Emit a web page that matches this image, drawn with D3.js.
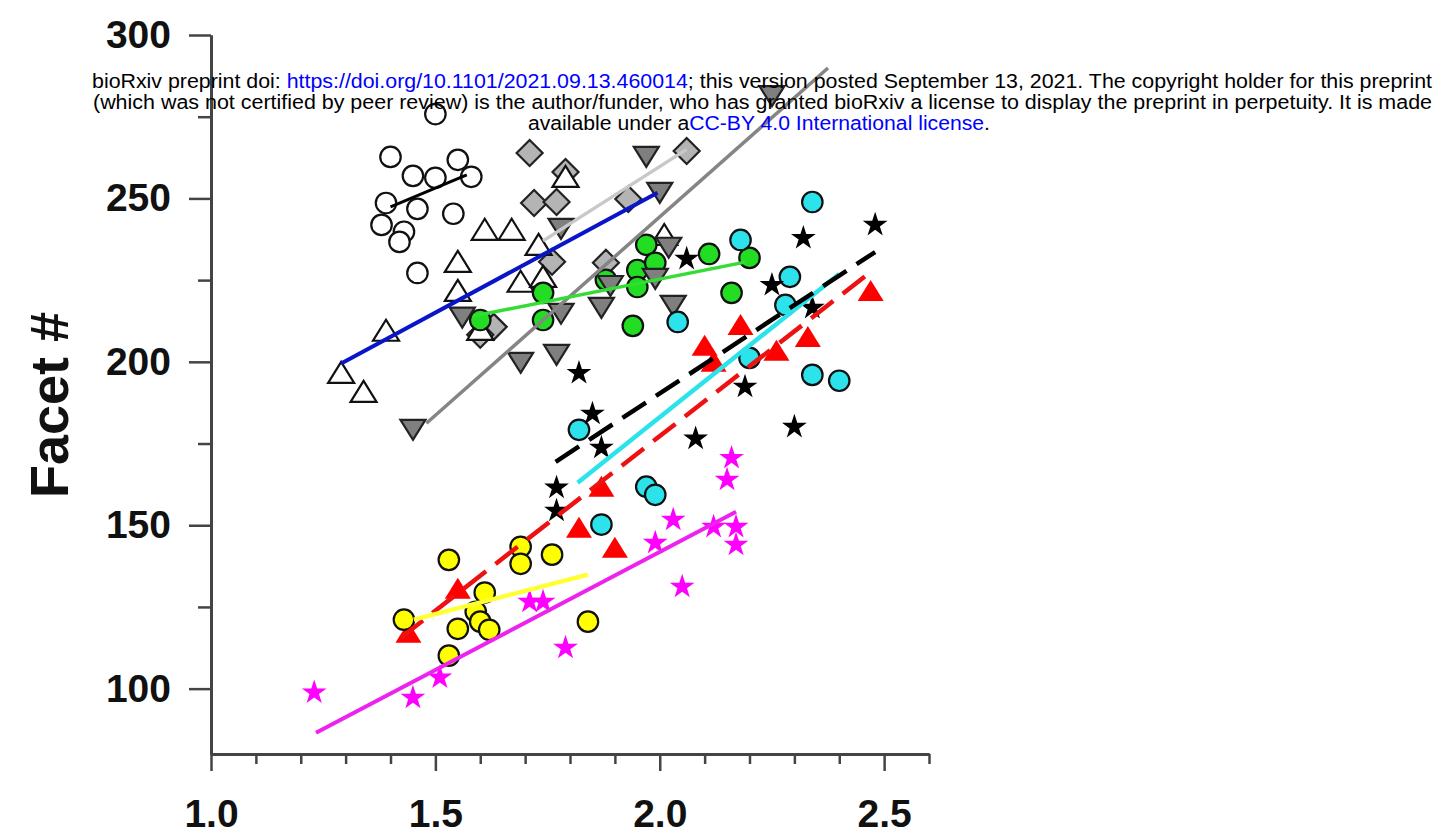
<!DOCTYPE html>
<html>
<head>
<meta charset="utf-8">
<script src="https://cdn.jsdelivr.net/npm/d3@7"></script>
<style>
  body { margin: 0; background: #fff; }
  svg { display: block; font-family: "Liberation Sans", Arial, sans-serif; }
</style>
</head>
<body>
<svg id="chart"></svg>
<script>
// ---- data (x, facet #) ----
const openCircles = [[1.50,275.8],[1.40,262.7],[1.55,261.8],[1.45,256.9],[1.50,256.3],[1.58,256.6],
  [1.39,248.6],[1.46,246.8],[1.54,245.3],[1.38,241.9],[1.43,239.8],[1.42,236.7],[1.46,227.2]];
const grayDiamonds = [[1.71,263.9],[1.79,258.1],[1.72,248.6],[1.77,248.9],[1.93,249.8],[2.06,264.5],
  [1.76,230.6],[1.88,230.3],[1.63,210.7],[1.60,208.3]];
const openTriangles = [[1.29,196.6],[1.34,190.8],[1.39,209.5],[1.55,230.6],[1.61,240.4],[1.67,240.4],
  [1.55,221.7],[1.73,235.8],[1.69,224.5],[1.74,226.0],[1.79,256.6],[2.01,238.8],[1.60,209.8]];
const greenCircles = [[1.60,212.8],[1.74,221.1],[1.74,212.8],[1.88,225.1],[1.95,228.1],[1.97,235.8],
  [1.99,230.3],[1.95,222.9],[2.11,233.0],[2.20,231.8],[2.16,221.1],[1.94,211.0]];
const downTriangles = [[1.97,262.7],[2.00,251.7],[1.78,240.7],[1.89,223.2],[2.02,234.9],[2.03,217.1],
  [1.99,225.4],[1.87,216.5],[1.78,214.7],[1.56,213.5],[1.69,199.7],[1.77,202.1],[1.45,179.2],[2.25,281.3]];
const cyanCircles = [[2.34,248.9],[2.18,237.3],[2.29,226.0],[2.28,217.4],[2.04,212.2],[2.20,201.2],
  [2.34,196.0],[2.40,194.2],[1.82,179.2],[1.97,161.8],[1.99,159.3],[1.87,150.2]];
const blackStars = [[2.48,241.9],[2.32,237.9],[2.06,231.5],[2.25,223.5],[2.34,216.5],[2.19,192.4],
  [2.08,176.5],[2.30,180.1],[1.82,196.6],[1.85,184.1],[1.87,173.7],[1.77,161.5],[1.77,154.4]];
const redTriangles = [[2.47,221.7],[2.33,207.6],[2.26,203.4],[2.18,211.3],[2.10,204.9],[2.12,200.0],
  [1.87,161.8],[1.82,149.2],[1.90,143.1],[1.55,130.6],[1.44,117.1]];
const yellowCircles = [[1.43,121.1],[1.53,139.4],[1.69,143.4],[1.69,138.2],[1.76,141.0],[1.61,129.4],
  [1.59,123.5],[1.60,120.5],[1.62,118.0],[1.55,118.3],[1.53,110.1],[1.84,120.5]];
const magentaStars = [[1.23,98.8],[1.45,97.2],[1.51,103.4],[1.71,126.6],[1.74,126.6],[1.79,112.5],
  [2.05,131.2],[2.16,170.6],[2.15,163.9],[2.03,151.7],[1.99,144.6],[2.12,149.5],[2.17,149.5],[2.17,144.0]];

// fitted lines, [start, end]
const fitOpenCircles = [[1.40,247.4],[1.57,257.2]];
const fitTriangles = [[1.29,199.5],[1.995,251.7]];
const fitDiamonds = [[1.74,237.0],[2.06,265.0]];
const fitDownTriangles = [[1.48,181.2],[2.375,289.9]];
const fitGreen = [[1.585,214.0],[2.19,230.5]];
const fitCyan = [[1.817,163.0],[2.40,226.9]];
const fitBlackStars = [[1.768,169.4],[2.48,233.6]];
const fitRed = [[1.423,115.6],[2.47,227.5]];
const fitYellow = [[1.452,121.1],[1.84,134.9]];
const fitMagenta = [[1.234,86.5],[2.17,154.1]];

const xMajor = [1.0, 1.5, 2.0, 2.5];
const xMinor = [1.1,1.2,1.3,1.4,1.6,1.7,1.8,1.9,2.1,2.2,2.3,2.4,2.6];
const yMajor = [100, 150, 200, 250, 300];
const yMinor = [125, 175, 225, 275];

const width = 1439, height = 835;
const svg = d3.select("#chart").attr("width", width).attr("height", height);

const x = d3.scaleLinear().domain([1.0, 2.6]).range([211, 929]);
const y = d3.scaleLinear().domain([80, 300]).range([754, 35]);

// ---- axes ----
function styleAxis(g) {
  g.select(".domain").attr("stroke", "#444").attr("stroke-width", 3);
  g.selectAll(".tick line").attr("stroke", "#444").attr("stroke-width", 2.5);
  g.selectAll(".tick text").attr("fill", "#111").style("font-size", "39px").style("font-weight", "bold")
    .style("font-family", "'Liberation Sans', Arial, sans-serif");
}

svg.append("g")
  .attr("transform", "translate(0," + y(80) + ")")
  .call(d3.axisBottom(x).tickValues(xMinor).tickSize(10).tickSizeOuter(0).tickFormat(""))
  .call(styleAxis);
svg.append("g")
  .attr("transform", "translate(0," + y(80) + ")")
  .call(d3.axisBottom(x).tickValues(xMajor).tickSize(17).tickSizeOuter(0).tickPadding(28).tickFormat(d3.format(".1f")))
  .call(styleAxis);

svg.append("g")
  .attr("transform", "translate(" + x(1.0) + ",0)")
  .call(d3.axisLeft(y).tickValues(yMinor).tickSize(13).tickSizeOuter(0).tickFormat(""))
  .call(styleAxis);
svg.append("g")
  .attr("transform", "translate(" + x(1.0) + ",0)")
  .call(d3.axisLeft(y).tickValues(yMajor).tickSize(22).tickSizeOuter(0).tickPadding(18))
  .call(styleAxis);

svg.append("text")
  .attr("transform", "translate(68," + 405 + ") rotate(-90)")
  .style("text-anchor", "middle")
  .style("font-size", "54px")
  .style("font-weight", "bold")
  .attr("fill", "#111")
  .text("Facet #");

// ---- markers ----
const circle = d3.symbol(d3.symbolCircle, 330)();
const star = d3.symbol(d3.symbolStar, 190)();
const upTri = "M0,-11L13,10L-13,10Z";
const downTri = "M0,10L12.5,-10L-12.5,-10Z";
const diamond = "M0,-13L13,0L0,13L-13,0Z";

function drawMarkers(data, shape, fill, stroke) {
  svg.append("g").selectAll("path")
    .data(data)
    .join("path")
      .attr("transform", d => "translate(" + x(d[0]) + "," + y(d[1]) + ")")
      .attr("d", shape)
      .attr("fill", fill)
      .attr("stroke", stroke)
      .attr("stroke-width", stroke === "none" ? 0 : 2.2);
}

drawMarkers(openCircles, circle, "#fff", "#111");
drawMarkers(grayDiamonds, diamond, "#b4b4b4", "#222");
drawMarkers(openTriangles, upTri, "#fff", "#111");
drawMarkers(greenCircles, circle, "#22dd22", "#111");
drawMarkers(downTriangles, downTri, "#7f7f7f", "#222");
drawMarkers(cyanCircles, circle, "#2ce3ec", "#111");
drawMarkers(blackStars, star, "#000", "none");
drawMarkers(redTriangles, upTri, "#ff0000", "none");
drawMarkers(yellowCircles, circle, "#ffff00", "#111");
drawMarkers(magentaStars, star, "#ff00ff", "none");

// ---- fit lines ----
const line = d3.line().x(d => x(d[0])).y(d => y(d[1]));

function drawFit(pts, color, w, dash) {
  svg.append("path")
    .datum(pts)
    .attr("d", line)
    .attr("fill", "none")
    .attr("stroke", color)
    .attr("stroke-width", w)
    .attr("stroke-dasharray", dash || null);
}

drawFit(fitOpenCircles, "#000", 3);
drawFit(fitTriangles, "#0a14c8", 4);
drawFit(fitDiamonds, "#c8c8c8", 3.5);
drawFit(fitDownTriangles, "#858585", 3.5);
drawFit(fitGreen, "#33dd33", 3.5);
drawFit(fitCyan, "#2ce3ec", 4.5);
drawFit(fitBlackStars, "#000", 4.5, "28,12");
drawFit(fitRed, "#ee1111", 4.5, "28,12");
drawFit(fitYellow, "#ffff33", 4.5);
drawFit(fitMagenta, "#ee22ee", 4);

// ---- preprint header ----
const header = svg.append("g").style("font-size", "19.5px").attr("fill", "#000");

const l1 = header.append("text").attr("x", 92).attr("y", 88)
  .attr("textLength", 1340).attr("lengthAdjust", "spacingAndGlyphs");
l1.append("tspan").text("bioRxiv preprint doi: ");
l1.append("tspan").attr("fill", "#0000ff").text("https://doi.org/10.1101/2021.09.13.460014");
l1.append("tspan").text("; this version posted September 13, 2021. The copyright holder for this preprint");

header.append("text").attr("x", 93).attr("y", 109)
  .attr("textLength", 1339).attr("lengthAdjust", "spacingAndGlyphs")
  .text("(which was not certified by peer review) is the author/funder, who has granted bioRxiv a license to display the preprint in perpetuity. It is made");

const l3 = header.append("text").attr("x", 528).attr("y", 130)
  .attr("textLength", 462).attr("lengthAdjust", "spacingAndGlyphs");
l3.append("tspan").text("available under a");
l3.append("tspan").attr("fill", "#0000ff").text("CC-BY 4.0 International license");
l3.append("tspan").text(".");
</script>
</body>
</html>
